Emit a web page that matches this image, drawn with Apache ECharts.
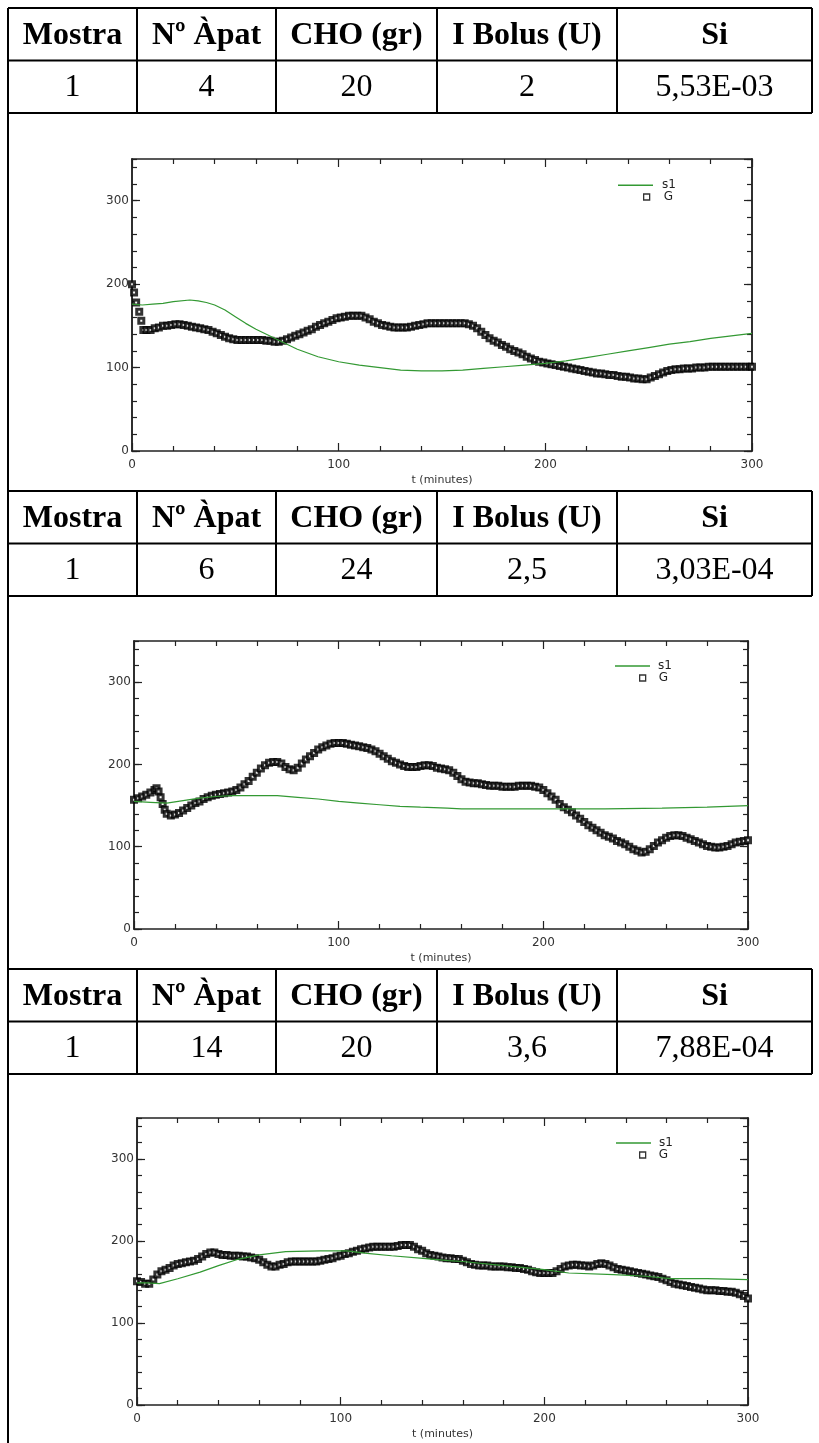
<!DOCTYPE html>
<html><head><meta charset="utf-8">
<script src="https://cdn.jsdelivr.net/npm/echarts@6/dist/echarts.min.js"></script>
<style>html,body{margin:0;padding:0;background:#fff}#c{width:819px;height:1443px}</style>
</head><body><div id="c"></div>
<script>
// ---------- data ----------
const tableHeaders = ['Mostra', 'Nº Àpat', 'CHO (gr)', 'I Bolus (U)', 'Si'];
const tableRow1 = ['1', '4', '20', '2', '5,53E-03'];
const tableRow2 = ['1', '6', '24', '2,5', '3,03E-04'];
const tableRow3 = ['1', '14', '20', '3,6', '7,88E-04'];

const xTickLabels = [0, 100, 200, 300];
const yTickLabels = [0, 100, 200, 300];

// chart 1 : G (measured glucose, squares) and s1 (model, green line)
const g1 = [[0,200],[1,190],[2,178],[3.5,167],[4.5,156],[5.5,145],[7,145],[9,145],[11,147],[13,148],[15,150],[17,150],[19,151],[21,152],[23,152],[25,151],[27,150],[29,149],[31,148],[33,147],[35,146],[37,145],[39,143],[41,141],[43,139],[45,137],[47,135],[49,134],[51,133],[53,133],[55,133],[57,133],[59,133],[61,133],[63,133],[65,132],[67,132],[69,131],[71,131],[73,132],[75,134],[77,136],[79,138],[81,140],[83,142],[85,144],[87,146],[89,149],[91,151],[93,153],[95,155],[97,157],[99,159],[101,160],[103,161],[105,162],[107,162],[109,162],[111,162],[113,160],[115,158],[117,155],[119,153],[121,151],[123,150],[125,149],[127,148],[129,148],[131,148],[133,148],[135,149],[137,150],[139,151],[141,152],[143,153],[145,153],[147,153],[149,153],[151,153],[153,153],[155,153],[157,153],[159,153],[161,153],[163,152],[165,150],[167,147],[169,143],[171,139],[173,135],[175,132],[177,130],[179,127],[181,125],[183,122],[185,120],[187,118],[189,116],[191,113],[193,111],[195,109],[197,107],[199,106],[201,105],[203,104],[205,103],[207,102],[209,101],[211,100],[213,99],[215,98],[217,97],[219,96],[221,95],[223,94],[225,93],[227,93],[229,92],[231,91],[233,91],[235,90],[237,89],[239,89],[241,88],[243,87],[245,87],[247,86],[249,86],[251,88],[253,90],[255,92],[257,94],[259,96],[261,97],[263,98],[265,98],[267,99],[269,99],[271,99],[273,100],[275,100],[277,100],[279,101],[281,101],[283,101],[285,101],[287,101],[289,101],[291,101],[293,101],[295,101],[297,101],[299,101],[300,101]];
const s1a = [[0,176],[5,175],[10,176],[15,177],[20,179],[28,181],[32,180],[36,178],[40,175],[45,169],[50,161],[55,153],[60,146],[65,140],[70,134],[80,122],[90,113],[100,107],[110,103],[120,100],[130,97],[140,96],[150,96],[160,97],[170,99],[180,101],[190,103],[200,105],[210,108],[220,112],[230,116],[240,120],[250,124],[260,128],[270,131],[280,135],[290,138],[300,141]];

// chart 2
const g2 = [[0,157],[2,159],[4,161],[6,163],[8,166],[10,169],[11,171],[12,167],[13,160],[14,152],[15,145],[16,140],[18,138],[20,139],[22,141],[24,144],[26,147],[28,150],[30,153],[32,155],[34,158],[36,160],[38,162],[40,163],[42,164],[44,165],[46,166],[48,167],[50,169],[52,172],[54,176],[56,180],[58,185],[60,190],[62,195],[64,199],[66,202],[68,203],[70,203],[72,201],[74,197],[76,194],[78,193],[80,196],[82,201],[84,206],[86,210],[88,214],[90,218],[92,221],[94,223],[96,225],[98,226],[100,226],[102,226],[104,225],[106,224],[108,223],[110,222],[112,221],[114,220],[116,218],[118,216],[120,213],[122,210],[124,207],[126,204],[128,202],[130,200],[132,198],[134,197],[136,197],[138,197],[140,198],[142,199],[144,199],[146,198],[148,196],[150,195],[152,194],[154,193],[156,190],[158,186],[160,182],[162,179],[164,178],[166,177],[168,177],[170,176],[172,175],[174,174],[176,174],[178,174],[180,173],[182,173],[184,173],[186,173],[188,174],[190,174],[192,174],[194,174],[196,173],[198,172],[200,169],[202,165],[204,161],[206,157],[208,152],[210,148],[212,145],[214,142],[216,138],[218,134],[220,130],[222,126],[224,123],[226,120],[228,117],[230,114],[232,112],[234,110],[236,107],[238,105],[240,103],[242,100],[244,97],[246,95],[248,93],[250,94],[252,97],[254,101],[256,105],[258,108],[260,111],[262,113],[264,114],[266,114],[268,113],[270,111],[272,109],[274,107],[276,105],[278,103],[280,101],[282,100],[284,99],[286,99],[288,100],[290,101],[292,103],[294,105],[296,106],[298,107],[300,108]];
const s1b = [[0,155],[8,154],[16,153],[24,156],[32,159],[40,161],[48,162],[60,162],[70,162],[80,160],[90,158],[100,155],[110,153],[120,151],[130,149],[140,148],[153,147],[160,146],[180,146],[200,146],[210,146],[230,146],[258,147],[280,148],[300,150]];

// chart 3
const g3 = [[0,151],[2,150],[4,148],[6,148],[8,153],[10,159],[12,163],[14,165],[16,167],[18,170],[20,172],[22,173],[24,174],[26,175],[28,176],[30,178],[32,181],[34,184],[36,186],[38,186],[40,184],[42,183],[44,183],[46,182],[48,182],[50,182],[52,181],[54,181],[56,180],[58,179],[60,177],[62,174],[64,171],[66,169],[68,169],[70,171],[72,172],[74,174],[76,175],[78,175],[80,175],[82,175],[84,175],[86,175],[88,175],[90,176],[92,177],[94,178],[96,179],[98,181],[100,182],[102,184],[104,185],[106,187],[108,188],[110,190],[112,191],[114,192],[116,193],[118,193],[120,193],[122,193],[124,193],[126,193],[128,194],[130,195],[132,195],[134,195],[136,193],[138,190],[140,188],[142,185],[144,183],[146,182],[148,181],[150,180],[152,179],[154,179],[156,178],[158,178],[160,176],[162,174],[164,172],[166,171],[168,170],[170,170],[172,170],[174,169],[176,169],[178,169],[180,169],[182,168],[184,168],[186,167],[188,167],[190,166],[192,165],[194,163],[196,162],[198,161],[200,161],[202,161],[204,161],[206,163],[208,166],[210,169],[212,170],[214,171],[216,171],[218,170],[220,170],[222,169],[224,170],[226,172],[228,173],[230,172],[232,170],[234,168],[236,166],[238,165],[240,164],[242,163],[244,162],[246,161],[248,160],[250,159],[252,158],[254,157],[256,156],[258,154],[260,152],[262,150],[264,148],[266,147],[268,146],[270,145],[272,144],[274,143],[276,142],[278,141],[280,140],[282,140],[284,140],[286,139],[288,139],[290,138],[292,138],[294,137],[296,135],[298,133],[300,130]];
const s1c = [[0,149],[5,149],[11,148],[20,154],[31,162],[40,170],[50,178],[60,183],[73,187],[90,188],[103,188],[113,185],[125,182],[139,179],[153,176],[160,175],[180,170],[200,165],[212,161],[234,159],[250,157],[262,154],[280,154],[300,153]];

// ---------- layout (not data) ----------
const gSets = [g1, g2, g3];
const sSets = [s1a, s1b, s1c];
const tableRows = [tableRow1, tableRow2, tableRow3];
const grids = [
  {left:132, top:159, width:620, height:292},
  {left:134, top:641, width:614, height:288},
  {left:137, top:1118, width:611, height:287}
];
const legendPos = [
  {s:{left:618, top:179.3}, g:{left:643, top:191}, sPad:4, gPad:9},
  {s:{left:615, top:660}, g:{left:639, top:672}, sPad:3, gPad:8},
  {s:{left:616, top:1137}, g:{left:639, top:1149}, sPad:3, gPad:8}
];
const tableTops = [8, 491, 969];
const rowH = 52.5;
const colX = [8, 137, 276, 437, 617, 812];

const AX = '#222';
const GREEN = '#339933';
const lblFont = 'DejaVu Sans';

const xAxes = [], yAxes = [], series = [], legends = [];
grids.forEach((g, i) => {
  const base = {
    gridIndex: i, type: 'value', min: 0, max: 300, interval: 100,
    axisLine: {show: true, onZero: false, lineStyle: {color: AX, width: 1.5}},
    axisTick: {show: true, inside: true, length: 8, lineStyle: {color: AX, width: 1.2}},
    minorTick: {show: true, splitNumber: 5, length: 5, lineStyle: {color: AX, width: 1.2}},
    splitLine: {show: false}, minorSplitLine: {show: false}
  };
  xAxes.push(Object.assign({}, base, {
    position: 'bottom',
    axisLabel: {show: true, fontSize: 12, color: '#333', margin: 8, fontFamily: lblFont,
      formatter: v => xTickLabels.includes(v) ? String(v) : ''},
    name: 't (minutes)', nameLocation: 'middle', nameGap: 24,
    nameTextStyle: {fontSize: 11, color: '#333', fontFamily: lblFont}
  }));
  xAxes.push(Object.assign({}, base, {position: 'top', axisLabel: {show: false}}));
  const yb = {
    gridIndex: i, type: 'value', min: 0, max: 350,
    axisLine: {show: true, onZero: false, lineStyle: {color: AX, width: 1.5}},
    splitLine: {show: false}
  };
  ['left', 'right'].forEach(pos => {
    yAxes.push(Object.assign({}, yb, {
      position: pos, interval: 100,
      axisTick: {show: true, inside: true, length: 8, lineStyle: {color: AX, width: 1.2}},
      axisLabel: pos === 'left'
        ? {show: true, fontSize: 12, color: '#333', margin: 3, fontFamily: lblFont, showMaxLabel: false,
           formatter: v => yTickLabels.includes(v) ? String(v) : ''}
        : {show: false}
    }));
    yAxes.push(Object.assign({}, yb, {
      position: pos, interval: 20,
      axisTick: {show: true, inside: true, length: 5, lineStyle: {color: AX, width: 1.2}},
      axisLabel: {show: false}
    }));
  });
  series.push({
    type: 'scatter', name: 'G', xAxisIndex: 2 * i, yAxisIndex: 4 * i,
    data: gSets[i], symbol: 'rect', symbolSize: 5,
    itemStyle: {color: '#fff', borderColor: '#000', borderWidth: 3},
    z: 2, silent: true
  });
  series.push({
    type: 'line', name: 's1', xAxisIndex: 2 * i, yAxisIndex: 4 * i,
    data: sSets[i], symbol: 'none', showSymbol: false,
    lineStyle: {color: GREEN, width: 1.2}, itemStyle: {color: GREEN},
    z: 3, silent: true
  });
  const lp = legendPos[i];
  legends.push({
    data: [{name: 's1', icon: 'rect'}], orient: 'vertical', left: lp.s.left, top: lp.s.top, padding: 0,
    itemWidth: 35, itemHeight: 1.5, selectedMode: false,
    itemStyle: {color: GREEN, borderWidth: 0},
    textStyle: {fontSize: 12, color: '#222', fontFamily: lblFont, padding: [0, 0, 0, lp.sPad]}
  });
  legends.push({
    data: ['G'], orient: 'vertical', left: lp.g.left, top: lp.g.top, padding: 0,
    itemWidth: 6, itemHeight: 6, selectedMode: false,
    itemStyle: {color: '#fff', borderColor: '#000', borderWidth: 1.3},
    textStyle: {fontSize: 12, color: '#222', fontFamily: lblFont, padding: [0, 0, 0, lp.gPad]}
  });
});

// ---------- table drawing ----------
const graphics = [];
function hLine(y, x1, x2) {
  graphics.push({type: 'line', shape: {x1: x1, y1: y, x2: x2, y2: y}, style: {stroke: '#000', lineWidth: 2}, z: 10, silent: true});
}
function vLine(x, y1, y2) {
  graphics.push({type: 'line', shape: {x1: x, y1: y1, x2: x, y2: y2}, style: {stroke: '#000', lineWidth: 2}, z: 10, silent: true});
}
function txt(s, x, y, font) {
  graphics.push({type: 'text', x: x, y: y, silent: true, z: 11,
    style: {text: s, font: font, fill: '#000', align: 'center', verticalAlign: 'middle',
            textAlign: 'center', textVerticalAlign: 'middle'}});
}
vLine(colX[0], 8, 1443);
tableTops.forEach((t, k) => {
  const sep = t + rowH, bot = t + 2 * rowH;
  hLine(t, colX[0], colX[5]);
  hLine(sep, colX[0], colX[5]);
  hLine(bot, colX[0], colX[5]);
  for (let c = 1; c < colX.length; c++) vLine(colX[c], t, bot);
  for (let c = 0; c < 5; c++) {
    const cx = (colX[c] + colX[c + 1]) / 2;
    txt(tableHeaders[c], cx, t + rowH / 2 + 1, 'bold 32px "Liberation Serif"');
    txt(tableRows[k][c], cx, sep + rowH / 2 + 1, '32px "Liberation Serif"');
  }
});

const chart = echarts.init(document.getElementById('c'), null, {renderer: 'canvas'});
chart.setOption({
  backgroundColor: '#fff',
  animation: false,
  grid: grids,
  xAxis: xAxes,
  yAxis: yAxes,
  legend: legends,
  series: series,
  graphic: {elements: graphics}
});
</script>
</body></html>
